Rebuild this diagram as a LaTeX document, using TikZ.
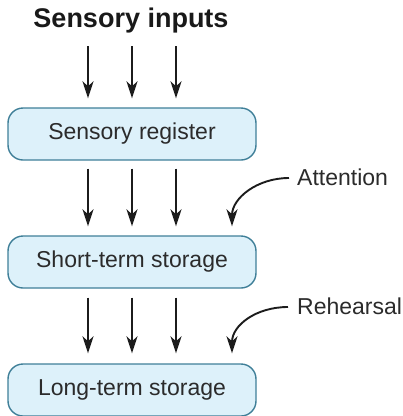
\documentclass[tikz,border=0pt]{standalone}
\usepackage{fontspec}
\setmainfont{Liberation Sans}
\usetikzlibrary{arrows.meta}
\definecolor{boxfill}{HTML}{DDF1FA}
\definecolor{boxline}{HTML}{3F7F98}
\definecolor{ink}{HTML}{2B2B2B}
\definecolor{arrowink}{HTML}{1C1C1C}
\begin{document}
\begin{tikzpicture}[x=1pt,y=-1pt,
  stage/.style={draw=boxline, line width=1.4pt, fill=boxfill, rounded corners=15pt,
    minimum width=248pt, minimum height=52pt, inner sep=0pt,
    font=\fontsize{23}{27}\selectfont, text=ink},
  flow/.style={line width=1.9pt, draw=arrowink,
    -{Stealth[length=17pt,width=11pt,inset=5pt]}},
  side/.style={font=\fontsize{23}{27}\selectfont, text=ink, anchor=west, inner sep=0pt}]
\useasboundingbox (0,0) rectangle (403,416);

% title
\node[font=\fontsize{27}{31}\selectfont\bfseries, text=black!90, inner sep=0pt] (title) at (131,21) {Sensory inputs};

% the three storage stages
\node[stage] (reg) at (132,134) {Sensory register};
\node[stage] (sts) at (132,262) {Short-term storage};
\node[stage] (lts) at (132,390) {Long-term storage};

% inputs into the register
\foreach \dx in {-44,0,44}{
  \draw[flow] ([xshift=\dx pt,yshift=61pt]reg.north) -- ([xshift=\dx pt,yshift=9pt]reg.north);
}
% register to short-term storage
\foreach \dx in {-44,0,44}{
  \draw[flow] ([xshift=\dx pt,yshift=-8pt]reg.south) -- ([xshift=\dx pt,yshift=9pt]sts.north);
}
% short-term to long-term storage
\foreach \dx in {-44,0,44}{
  \draw[flow] ([xshift=\dx pt,yshift=-9pt]sts.south) -- ([xshift=\dx pt,yshift=10pt]lts.north);
}

% control processes
\node[side] (att) at (297,177) {Attention};
\node[side] (reh) at (297,306) {Rehearsal};
\draw[flow] ([xshift=-8pt,yshift=-1pt]att.west) .. controls +(-32,0) and +(0,-28) .. ([xshift=100pt,yshift=9pt]sts.north);
\draw[flow] ([xshift=-9pt,yshift=-1pt]reh.west) .. controls +(-32,0) and +(0,-28) .. ([xshift=100pt,yshift=10pt]lts.north);
\end{tikzpicture}
\end{document}
